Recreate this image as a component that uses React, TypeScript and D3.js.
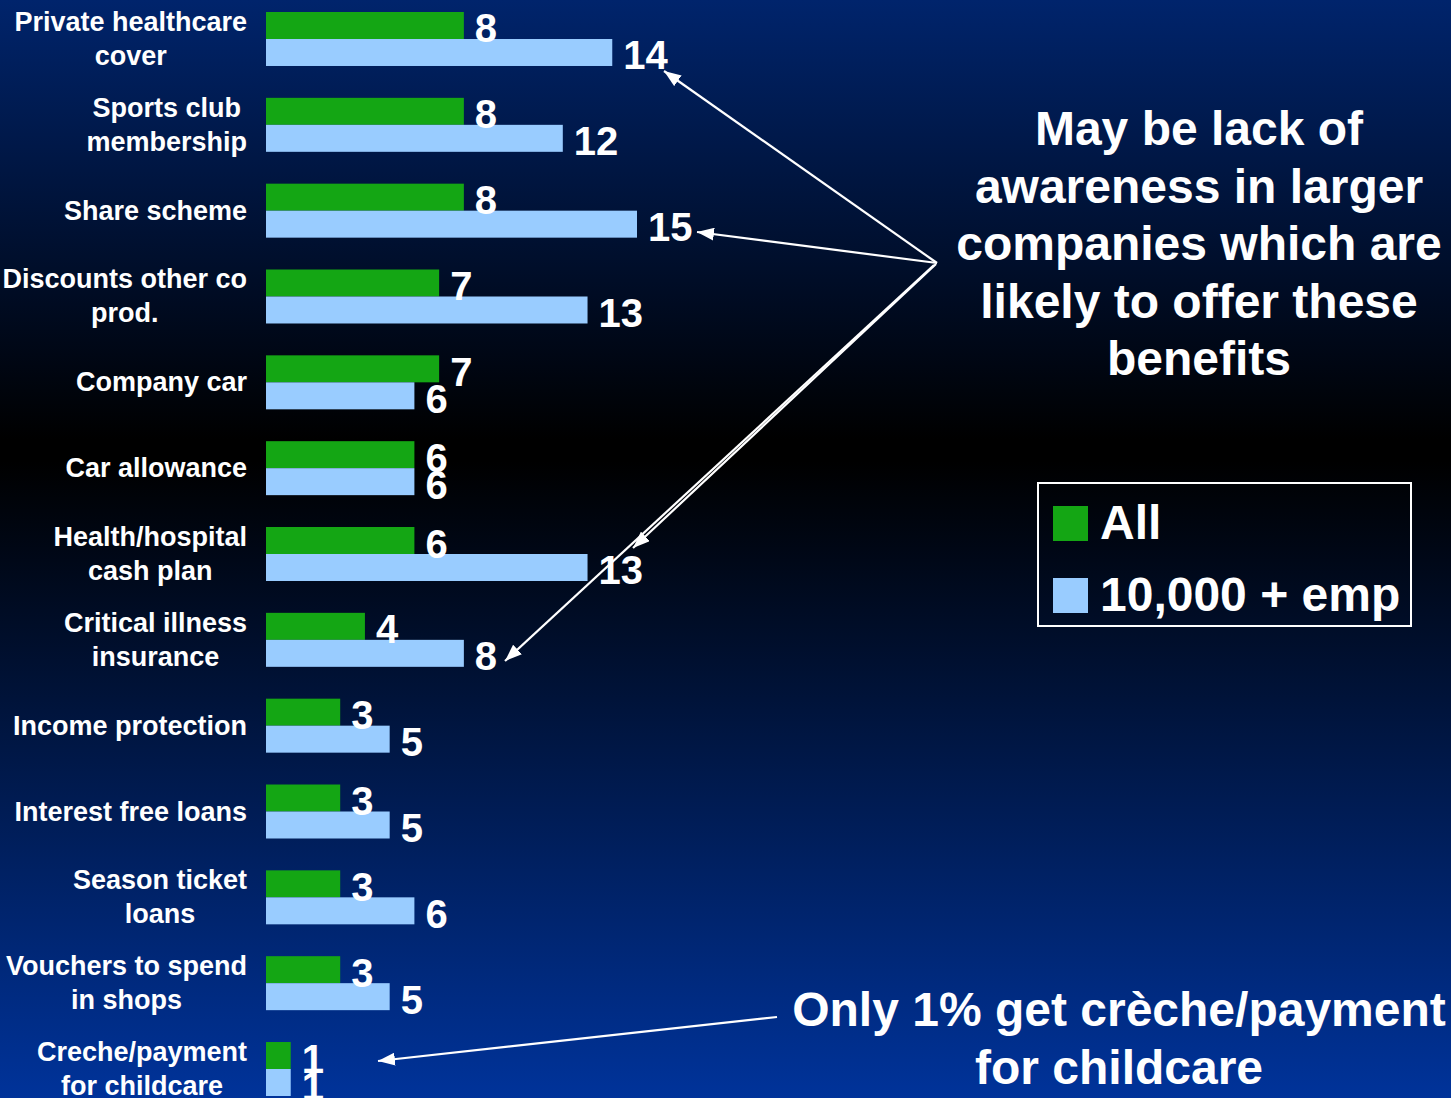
import React from "react";
import * as d3 from "d3";

const categories: string[][] = [
  ["Private healthcare", "cover"],
  ["Sports club", "membership"],
  ["Share scheme"],
  ["Discounts other co", "prod."],
  ["Company car"],
  ["Car allowance"],
  ["Health/hospital", "cash plan"],
  ["Critical illness", "insurance"],
  ["Income protection"],
  ["Interest free loans"],
  ["Season ticket", "loans"],
  ["Vouchers to spend", "in shops"],
  ["Creche/payment", "for childcare"],
];
const allValues = [8, 8, 8, 7, 7, 6, 6, 4, 3, 3, 3, 3, 1];
const bigValues = [14, 12, 15, 13, 6, 6, 13, 8, 5, 5, 6, 5, 1];
const seriesNames = ["All", "10,000 + emp"];
const colors = ["#14a614", "#99ccff"];
const note1 = ["May be lack of", "awareness in larger", "companies which are", "likely to offer these", "benefits"];
const note2 = ["Only 1% get crèche/payment", "for childcare"];

const W = 1451;
const H = 1098;
const FONT = "'Liberation Sans', Arial, sans-serif";

let ctx: CanvasRenderingContext2D | null = null;
function measure(t: string, size: number): number {
  if (!ctx) ctx = document.createElement("canvas").getContext("2d");
  if (!ctx) return t.length * size * 0.55;
  ctx.font = `bold ${size}px ${FONT}`;
  return ctx.measureText(t).width;
}

export default function App() {
  const keys = categories.map((c) => c.join(" "));
  const y = d3.scaleBand<string>().domain(keys).range([12, 1096]).paddingInner(0.371).paddingOuter(0);
  const x = d3.scaleLinear().domain([0, 15]).range([266, 637]);
  const bw = y.bandwidth();
  const half = bw / 2;
  const labelRight = 247;
  const labelSize = 27;

  const arrows: [number, number, number, number][] = [
    [937, 263, 664, 71],
    [937, 263, 697, 232],
    [936, 264, 633, 548],
    [934, 265, 505, 661],
    [777, 1017, 378, 1061],
  ];

  return (
    <svg width={W} height={H} style={{ position: "absolute", left: 0, top: 0 }} fontFamily={FONT}>
      <defs>
        <linearGradient id="bg" x1="0" y1="0" x2="0" y2="1">
          <stop offset="0" stopColor="#00246c" />
          <stop offset="0.40" stopColor="#000000" />
          <stop offset="0.42" stopColor="#000000" />
          <stop offset="1" stopColor="#00339a" />
        </linearGradient>
        <marker id="ah" viewBox="0 0 17 13" refX="17" refY="6.5" markerWidth="17" markerHeight="13" markerUnits="userSpaceOnUse" orient="auto">
          <path d="M0,0 L17,6.5 L0,13 z" fill="#fff" />
        </marker>
      </defs>
      <rect x={0} y={0} width={W} height={H} fill="url(#bg)" />
      {keys.map((k, i) => {
        const top = y(k) as number;
        const lines = categories[i];
        const maxW = Math.max(...lines.map((l) => measure(l, labelSize)));
        const cx = labelRight - maxW / 2;
        const mid = top + bw / 2;
        const lh = 34;
        const firstBase = mid + 9 - ((lines.length - 1) * lh) / 2;
        return (
          <g key={k}>
            <text x={cx} textAnchor="middle" fill="#fff" fontWeight="bold" fontSize={labelSize}>
              {lines.map((l, j) => (
                <tspan key={j} x={cx} y={firstBase + j * lh}>
                  {l}
                </tspan>
              ))}
            </text>
            <rect x={x(0)} y={top} width={x(allValues[i]) - x(0)} height={half} fill={colors[0]} />
            <rect x={x(0)} y={top + half} width={x(bigValues[i]) - x(0)} height={half} fill={colors[1]} />
            <text x={x(allValues[i]) + 11} y={top + half / 2 + 17} fill="#fff" fontWeight="bold" fontSize={40}>
              {allValues[i]}
            </text>
            <text x={x(bigValues[i]) + 11} y={top + half + half / 2 + 17} fill="#fff" fontWeight="bold" fontSize={40}>
              {bigValues[i]}
            </text>
          </g>
        );
      })}
      {arrows.map((a, i) => (
        <line key={i} x1={a[0]} y1={a[1]} x2={a[2]} y2={a[3]} stroke="#fff" strokeWidth={2.2} markerEnd="url(#ah)" />
      ))}
      <text textAnchor="middle" fill="#fff" fontWeight="bold" fontSize={48}>
        {note1.map((l, j) => (
          <tspan key={j} x={1199} y={145 + j * 57.5}>
            {l}
          </tspan>
        ))}
      </text>
      <text textAnchor="middle" fill="#fff" fontWeight="bold" fontSize={48}>
        {note2.map((l, j) => (
          <tspan key={j} x={1119} y={1026 + j * 58}>
            {l}
          </tspan>
        ))}
      </text>
      <rect x={1038} y={483} width={373} height={143} fill="none" stroke="#fff" strokeWidth={2} />
      {seriesNames.map((s, i) => (
        <g key={s}>
          <rect x={1053} y={506 + i * 72} width={35} height={35} fill={colors[i]} />
          <text x={1100} y={539 + i * 72} fill="#fff" fontWeight="bold" fontSize={48}>
            {s}
          </text>
        </g>
      ))}
    </svg>
  );
}
